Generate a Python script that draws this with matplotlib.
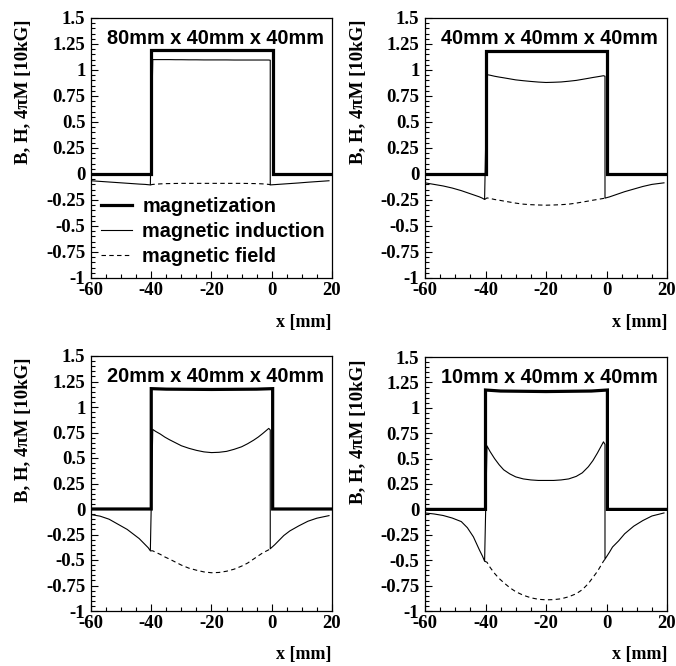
import numpy as np
import matplotlib
matplotlib.use("Agg")
import matplotlib.pyplot as plt
from matplotlib.font_manager import FontProperties
from matplotlib.ticker import MultipleLocator, FixedFormatter, FixedLocator

plt.rcParams["axes.unicode_minus"] = False

titles = ["80mm x 40mm x 40mm", "40mm x 40mm x 40mm",
          "20mm x 40mm x 40mm", "10mm x 40mm x 40mm"]

# x positions (mm) where the curves were read
x_left = [-60, -57, -54, -51, -48, -46, -44, -42, -41, -40.3]
x_in = [-39.5, -38.5, -37, -35.5, -34, -32, -30, -27.5, -25, -22.5, -20,
        -17.5, -15, -12.5, -10, -8, -6, -4.5, -3, -2, -1, -0.5]
x_right = [-0.5, 1, 2, 4, 6, 9, 12, 15, 19]
x_mag = [-60, -40, -40, -35, -20, -5, 0.3, 0.3, 20]

# magnetization 4piM [10kG]
mag = [
    [0, 0, 1.19, 1.19, 1.19, 1.19, 1.19, 0, 0],
    [0, 0, 1.185, 1.185, 1.185, 1.185, 1.185, 0, 0],
    [0, 0, 1.18, 1.175, 1.172, 1.175, 1.18, 0, 0],
    [0, 0, 1.175, 1.165, 1.16, 1.165, 1.175, 0, 0],
]

# field outside the magnet (B = H there)
out_left = [
    [-0.065, -0.071, -0.077, -0.083, -0.089, -0.093, -0.097, -0.10, -0.103, -0.105],
    [-0.085, -0.10, -0.115, -0.135, -0.16, -0.18, -0.20, -0.22, -0.233, -0.245],
    [-0.055, -0.07, -0.10, -0.15, -0.20, -0.245, -0.29, -0.35, -0.38, -0.41],
    [-0.035, -0.045, -0.06, -0.085, -0.12, -0.18, -0.27, -0.40, -0.46, -0.51],
]
out_right = [
    [-0.105, -0.102, -0.10, -0.096, -0.092, -0.086, -0.079, -0.073, -0.065],
    [-0.232, -0.22, -0.21, -0.19, -0.17, -0.145, -0.12, -0.10, -0.085],
    [-0.39, -0.35, -0.32, -0.26, -0.215, -0.165, -0.12, -0.09, -0.065],
    [-0.49, -0.42, -0.37, -0.31, -0.24, -0.165, -0.11, -0.065, -0.035],
]

# magnetic induction B inside the magnet
b_in = [
    [1.10, 1.10, 1.10, 1.10, 1.10, 1.099, 1.099, 1.098, 1.098, 1.097, 1.097,
     1.097, 1.097, 1.096, 1.096, 1.096, 1.096, 1.096, 1.096, 1.096, 1.096, 1.094],
    [0.955, 0.95, 0.94, 0.932, 0.925, 0.915, 0.905, 0.897, 0.89, 0.884, 0.88,
     0.882, 0.885, 0.892, 0.90, 0.91, 0.92, 0.928, 0.935, 0.94, 0.945, 0.94],
    [0.78, 0.76, 0.735, 0.705, 0.68, 0.65, 0.62, 0.595, 0.575, 0.56, 0.553,
     0.556, 0.565, 0.585, 0.61, 0.64, 0.675, 0.705, 0.74, 0.765, 0.79, 0.775],
    [0.625, 0.57, 0.50, 0.44, 0.39, 0.35, 0.32, 0.30, 0.29, 0.285, 0.285,
     0.285, 0.29, 0.30, 0.325, 0.36, 0.42, 0.48, 0.555, 0.61, 0.665, 0.64],
]

# magnetic field H inside the magnet
h_in = [
    [-0.10, -0.098, -0.095, -0.093, -0.092, -0.091, -0.09, -0.09, -0.09, -0.09, -0.09,
     -0.09, -0.09, -0.09, -0.09, -0.091, -0.092, -0.093, -0.095, -0.097, -0.10, -0.103],
    [-0.23, -0.235, -0.245, -0.252, -0.26, -0.27, -0.28, -0.29, -0.295, -0.298, -0.30,
     -0.298, -0.295, -0.29, -0.28, -0.27, -0.26, -0.252, -0.245, -0.24, -0.235, -0.232],
    [-0.41, -0.425, -0.445, -0.47, -0.49, -0.52, -0.55, -0.58, -0.60, -0.617, -0.625,
     -0.622, -0.61, -0.59, -0.56, -0.53, -0.49, -0.46, -0.43, -0.415, -0.40, -0.39],
    [-0.52, -0.57, -0.63, -0.68, -0.72, -0.77, -0.81, -0.845, -0.87, -0.885, -0.89,
     -0.888, -0.88, -0.86, -0.83, -0.79, -0.73, -0.67, -0.61, -0.56, -0.51, -0.49],
]

ytick_vals = [-1, -0.75, -0.5, -0.25, 0, 0.25, 0.5, 0.75, 1, 1.25, 1.5]
ytick_labels = ["-1", "-0.75", "-0.5", "-0.25", "0", "0.25", "0.5", "0.75", "1", "1.25", "1.5"]

W, H = 676, 666
boxes = [(91, 332, 18, 278), (425, 667, 18, 278),
         (91, 332, 356, 611), (425, 667, 357, 611)]

fig = plt.figure(figsize=(W / 100, H / 100), dpi=100)
serif = {"family": "Liberation Serif", "weight": "bold"}
sans = {"family": "Liberation Sans", "weight": "bold"}

for i in range(4):
    l, r, t, b = boxes[i]
    ax = fig.add_axes([l / W, 1 - b / H, (r - l) / W, (b - t) / H])

    xb = x_left + x_in + x_right
    yb = out_left[i] + b_in[i] + out_right[i]
    xh = [x_left[-1]] + x_in
    yh = [out_left[i][-1]] + h_in[i]

    ax.plot(x_mag, mag[i], color="black", lw=2.3, solid_joinstyle="miter",
            label="magnetization")
    ax.plot(xb, yb, color="black", lw=0.8, label="magnetic induction")
    ax.plot(xh, yh, color="black", lw=0.8, ls=(0, (4, 3)), label="magnetic field")

    ax.set_xlim(-60, 20)
    ax.set_ylim(-1, 1.5)
    ax.xaxis.set_major_locator(MultipleLocator(20))
    ax.xaxis.set_minor_locator(MultipleLocator(5))
    ax.yaxis.set_major_locator(FixedLocator(ytick_vals))
    ax.yaxis.set_major_formatter(FixedFormatter(ytick_labels))
    ax.yaxis.set_minor_locator(MultipleLocator(0.05))
    ax.tick_params(which="both", direction="in", top=False, right=False,
                   width=0.8, color="black")
    ax.tick_params(which="major", length=5)
    ax.tick_params(which="minor", length=2.8)
    ax.tick_params(axis="y", pad=4)
    ax.tick_params(axis="x", pad=3)
    for lab in ax.get_xticklabels() + ax.get_yticklabels():
        lab.set_fontproperties(FontProperties(size=13.5, **serif))
    for s in ax.spines.values():
        s.set_linewidth(0.9)

    ax.text(0.065, 0.92, titles[i], transform=ax.transAxes, fontsize=14.3,
            va="center", ha="left", **sans)

    fig.text(r / W, 1 - (b + 44) / H, "x [mm]", ha="right", va="center",
             fontsize=13, **serif)
    fig.text((l - 67) / W, 1 - (t + 2) / H, "B, H, 4\u03c0M [10kG]", rotation=90,
             ha="center", va="top", fontsize=13.5, **serif)

    if i == 0:
        ax.legend(loc="upper left", bbox_to_anchor=(0.04, 0.31), frameon=False,
                  prop=FontProperties(size=14.3, **sans),
                  handlelength=1.6, handletextpad=0.5, labelspacing=0.3,
                  borderaxespad=0, borderpad=0)

fig.savefig("out.png", dpi=100)
